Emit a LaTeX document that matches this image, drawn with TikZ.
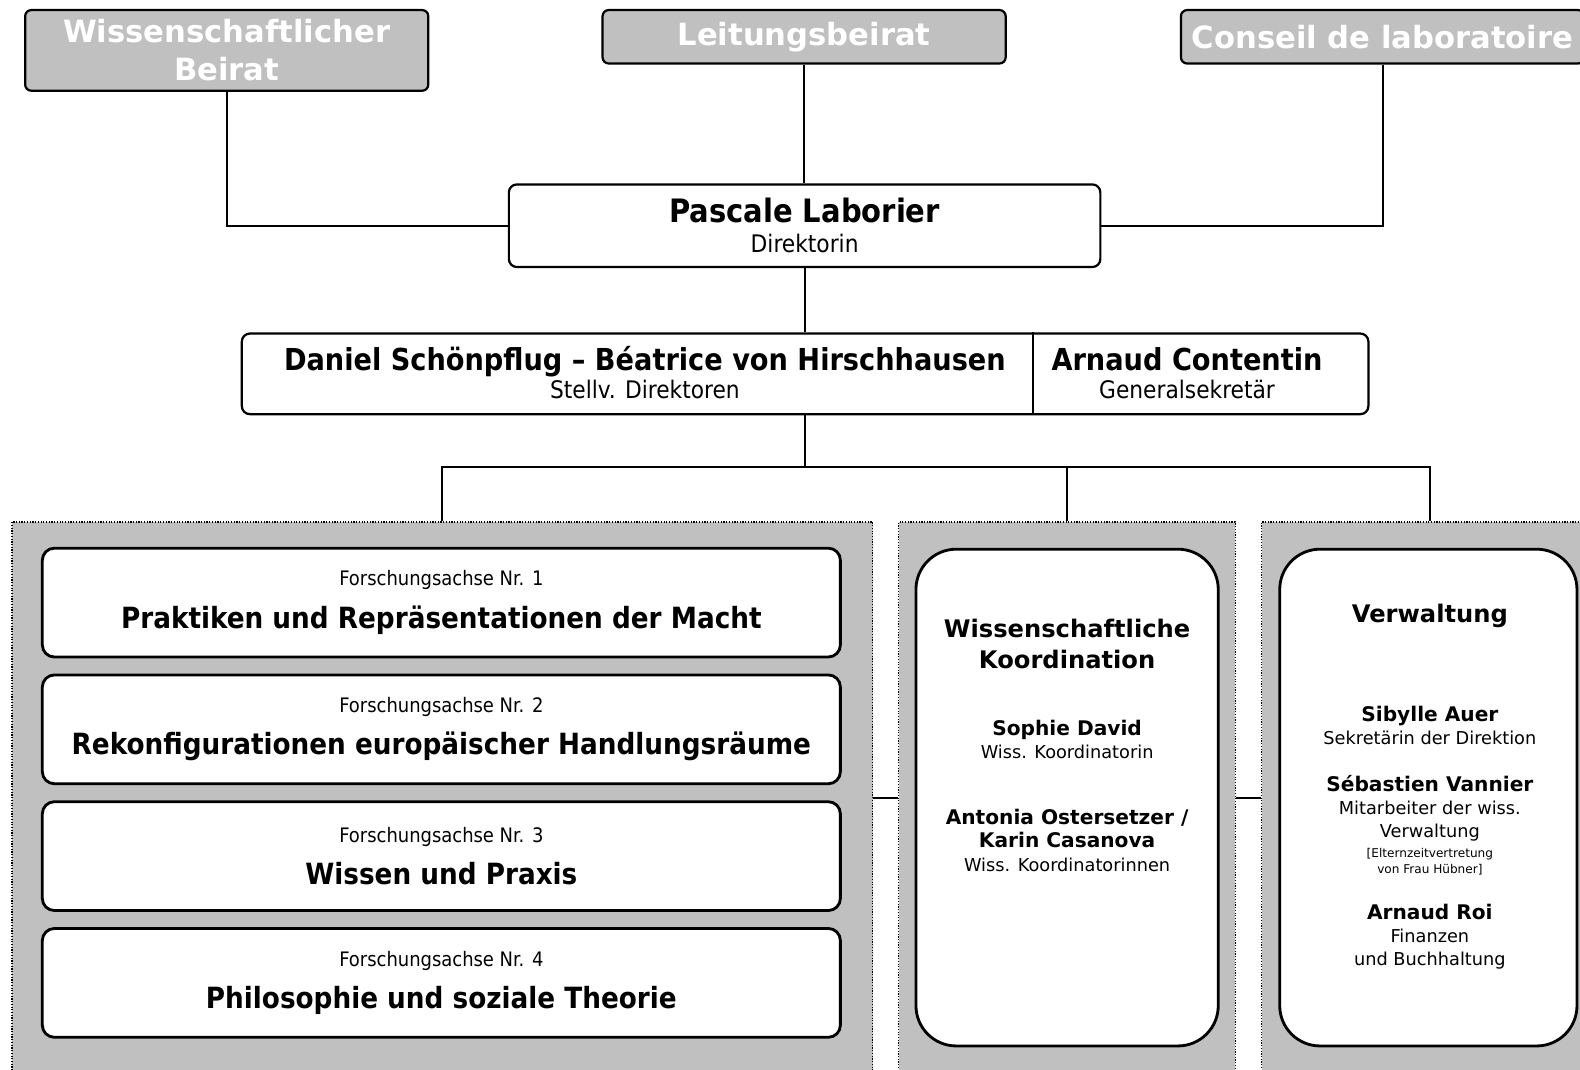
\documentclass[tikz,border=0pt]{standalone}
\usepackage{fontspec}
\setmainfont{DejaVu Sans}
\newfontfamily\condfont{DejaVu Sans Condensed}
\usetikzlibrary{%
    calc,
    positioning
}
\definecolor{panelgray}{HTML}{C0C0C0}
\tikzset{link/.style = {line width=1pt}}
\newcommand{\leadname}[1]{{\bfseries\fontsize{15}{15}\selectfont #1}}
\newcommand{\axistitle}[1]{{\bfseries\fontsize{14.5}{21}\selectfont #1}}
\newcommand{\staffname}[1]{{\bfseries\fontsize{10}{11.5}\selectfont #1}}
\newcommand{\tinynote}[1]{{\fontsize{6}{7}\selectfont #1}}

\begin{document}
\begin{tikzpicture}[x=0.5pt, y=-0.5pt,
    board/.style = {draw, line width=1.1pt, rounded corners=3pt, fill=panelgray,
        text=white, align=center, inner sep=0pt,
        font=\bfseries\fontsize{15.2}{19}\selectfont},
    head/.style = {draw, line width=1.1pt, rounded corners=4pt, fill=white,
        inner sep=0pt, align=center, font=\condfont\fontsize{12}{15}\selectfont},
    cell/.style = {align=center, inner sep=0pt,
        font=\condfont\fontsize{12}{14}\selectfont},
    panel/.style = {draw, fill=panelgray, line width=0.6pt,
        dash pattern=on 0.6pt off 0.75pt, inner sep=0pt},
    axisbox/.style = {draw, fill=white, line width=1.4pt, rounded corners=6pt,
        minimum width=396pt, minimum height=54pt, inner sep=0pt, align=center,
        font=\condfont\fontsize{9.9}{21}\selectfont},
    unitbox/.style = {draw, fill=white, line width=1.4pt, rounded corners=20pt,
        inner sep=0pt},
    unithead/.style = {align=center, inner sep=0pt,
        font=\bfseries\fontsize{12}{15}\selectfont},
    staff/.style = {align=center, inner sep=0pt,
        font=\fontsize{8.8}{11.5}\selectfont}]
    \useasboundingbox (0,0) rectangle (1568,1061);
    \clip (0,0) rectangle (1568,1061);

    % boards
    \node[board, minimum width=200pt, minimum height=40pt] (beirat) at (225,50)
        {Wissenschaftlicher\\Beirat};
    \node[board, minimum width=200pt, minimum height=26.5pt] (leitung) at (798,36.5)
        {Leitungsbeirat};
    \node[board, minimum width=200pt, minimum height=26.5pt] (conseil) at (1372,36.5)
        {Conseil de laboratoire};

    % direction
    \node[head, minimum width=293.5pt, minimum height=41pt] (pascale) at (798.5,224)
        {\leadname{\fontsize{16}{15}\selectfont Pascale Laborier}\\Direktorin};
    \node[head, minimum width=559pt, minimum height=40pt] (direction) at (799,371) {};
    \node[cell] (deputies) at (640,370)
        {\leadname{Daniel Schönpflug – Béatrice von Hirschhausen}\\Stellv. Direktoren};
    \node[cell] (secgen) at (1178,370)
        {\leadname{Arnaud Contentin}\\Generalsekretär};
    \coordinate (split) at (1025,371);
    \draw[link] (split |- direction.north) -- (split |- direction.south);

    % panels
    \node[panel, minimum width=427pt, minimum height=278.5pt] (research) at (439,796.5) {};
    \node[panel, minimum width=167pt, minimum height=278.5pt] (coordination) at (1059,796.5) {};
    \node[panel, minimum width=167pt, minimum height=278.5pt] (admin) at (1419,796.5) {};

    % research axes
    \node[axisbox] (axis1) at (438,598)
        {Forschungsachse Nr. 1\\\axistitle{Praktiken und Repräsentationen der Macht}};
    \node[axisbox, below=7.5pt of axis1] (axis2)
        {Forschungsachse Nr. 2\\\axistitle{Rekonfigurationen europäischer Handlungsräume}};
    \node[axisbox, below=7.5pt of axis2] (axis3)
        {Forschungsachse Nr. 3\\\axistitle{Wissen und Praxis}};
    \node[axisbox, below=7.5pt of axis3] (axis4)
        {Forschungsachse Nr. 4\\\axistitle{Philosophie und soziale Theorie}};

    % coordination and administration
    \node[unitbox, minimum width=150pt, minimum height=246.5pt] (koord) at (1059,791.5) {};
    \node[unitbox, minimum width=147.5pt, minimum height=246.5pt] (verw) at (1417.5,791.5) {};

    \node[unithead] (koordhead) at (1059,639) {Wissenschaftliche\\Koordination};
    \node[staff] (david) at (1059,733.5)
        {\staffname{Sophie David}\\Wiss. Koordinatorin};
    \node[staff] (ostersetzer) at (1059,834)
        {\staffname{Antonia Ostersetzer /}\\\staffname{Karin Casanova}\\Wiss. Koordinatorinnen};

    \node[unithead] (verwhead) at (1419,611) {Verwaltung};
    \node[staff] (auer) at (1419,720)
        {\staffname{Sibylle Auer}\\Sekretärin der Direktion};
    \node[staff] (vannier) at (1419,819)
        {\staffname{Sébastien Vannier}\\Mitarbeiter der wiss.\\Verwaltung\\[-1.5pt]%
        \tinynote{[Elternzeitvertretung}\\[-3.5pt]\tinynote{von Frau Hübner]}};
    \node[staff] (roi) at (1419,929.5)
        {\staffname{Arnaud Roi}\\Finanzen\\und Buchhaltung};

    % connectors
    \draw[link] (beirat.south) |- (pascale.west);
    \draw[link] (leitung.south) -- (leitung.south |- pascale.north);
    \draw[link] (conseil.south) |- (pascale.east);
    \draw[link] (pascale.south) -- (pascale.south |- direction.north);
    \coordinate (fork) at (798.5,463);
    \draw[link] (pascale.south |- direction.south) -- (fork);
    \draw[link] (research.north) |- (fork) -| (admin.north);
    \draw[link] (coordination.north) -- (coordination.north |- fork);
    \draw[link] ([yshift=2.5pt]research.east) -- ([yshift=2.5pt]coordination.west);
    \draw[link] ([yshift=2.5pt]coordination.east) -- ([yshift=2.5pt]admin.west);
\end{tikzpicture}
\end{document}
